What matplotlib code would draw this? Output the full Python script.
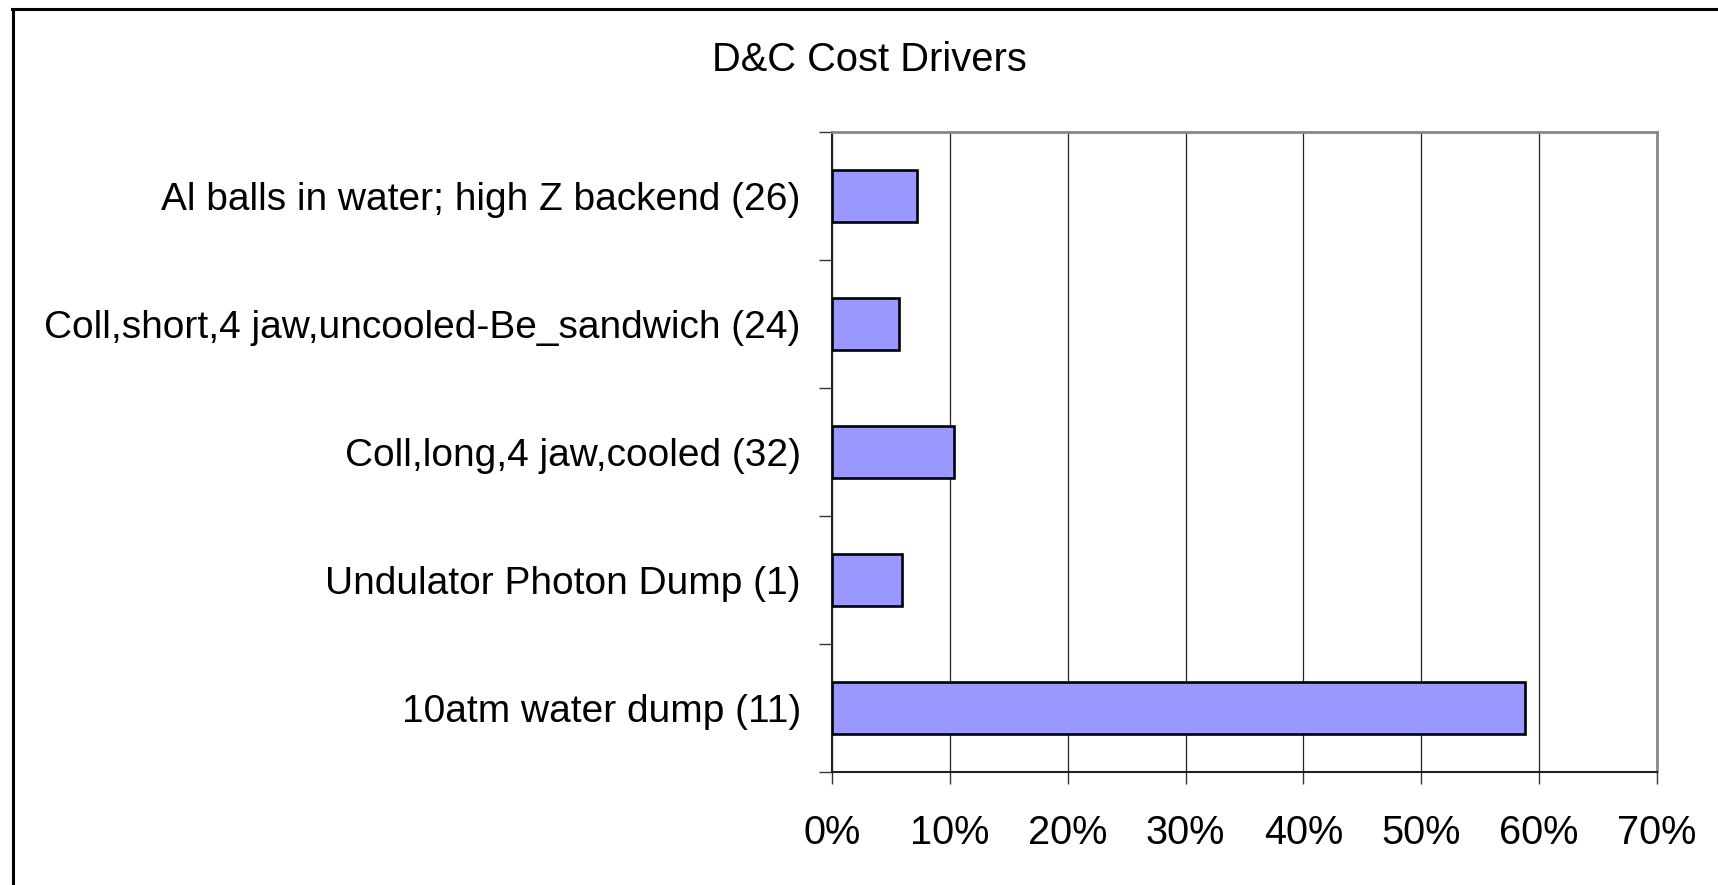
import matplotlib
matplotlib.use("Agg")
import matplotlib.pyplot as plt
from matplotlib.lines import Line2D
from matplotlib.ticker import FuncFormatter
import numpy as np

plt.rcParams['font.family'] = ['Liberation Sans', 'DejaVu Sans']

title = "D&C Cost Drivers"
categories = [
    "10atm water dump (11)",
    "Undulator Photon Dump (1)",
    "Coll,long,4 jaw,cooled (32)",
    "Coll,short,4 jaw,uncooled-Be_sandwich (24)",
    "Al balls in water; high Z backend (26)",
]
values = [0.588, 0.059, 0.1035, 0.057, 0.072]
x_ticks = [0.0, 0.1, 0.2, 0.3, 0.4, 0.5, 0.6, 0.7]

W, H = 1718, 885
fig = plt.figure(figsize=(W / 100, H / 100), dpi=100)
ax = fig.add_axes([832 / W, 1 - 772 / H, (1657 - 832) / W, (772 - 132) / H])

y = np.arange(len(categories))
ax.barh(y, values, height=0.4, color='#9999FF', edgecolor='black', linewidth=1.9, zorder=3)

ax.set_xlim(0, 0.7)
ax.set_ylim(-0.5, len(categories) - 0.5)
ax.set_xticks(x_ticks)
ax.xaxis.set_major_formatter(FuncFormatter(lambda v, p: f"{v * 100:.0f}%"))
ax.set_yticks(y)
ax.set_yticklabels(categories)
ax.set_yticks(np.arange(len(categories) + 1) - 0.5, minor=True)

ax.tick_params(axis='y', which='major', length=0, pad=22.5, labelsize=28)
ax.tick_params(axis='y', which='minor', length=9.5, width=1.0, color='#333333')
ax.tick_params(axis='x', which='major', length=8.6, width=1.0, color='#333333',
               pad=22, labelsize=28.6)

ax.grid(axis='x', color='#222222', linewidth=0.9, zorder=0)
ax.set_axisbelow(True)

for side in ['left', 'bottom']:
    ax.spines[side].set_color('#222222')
    ax.spines[side].set_linewidth(1.5)
for side in ['top', 'right']:
    ax.spines[side].set_color('#888888')
    ax.spines[side].set_linewidth(2.0)

fig.text(869 / W, 1 - 71 / H, title, ha='center', va='baseline', fontsize=28.7)

# outer chart frame (left and top edges visible)
fig.add_artist(Line2D([13 / W, 13 / W], [0, 1 - 8.5 / H], transform=fig.transFigure,
                      color='black', linewidth=2.2))
fig.add_artist(Line2D([12 / W, 1], [1 - 8.5 / H, 1 - 8.5 / H], transform=fig.transFigure,
                      color='black', linewidth=2.2))

fig.savefig("out.png", dpi=100, facecolor='white')
